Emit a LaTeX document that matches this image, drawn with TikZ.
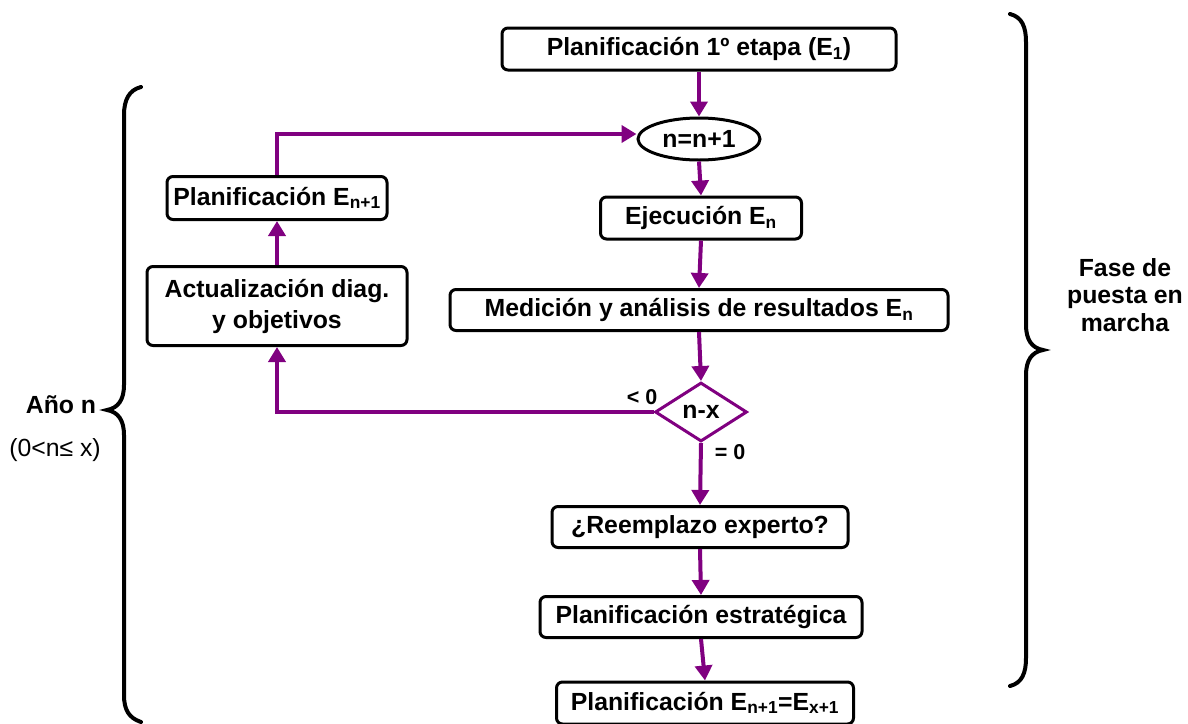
\documentclass[tikz,border=0pt]{standalone}
\usepackage{fontspec}
\setmainfont{Liberation Sans}
\usetikzlibrary{shapes.geometric,arrows.meta}
\definecolor{flowpurple}{RGB}{128,0,128}
\begin{document}
\begin{tikzpicture}[x=1pt,y=-1pt,
  box/.style={draw=black,line width=3pt,rounded corners=6pt,fill=white,inner sep=0pt,
    font=\bfseries\fontsize{24.8}{31}\selectfont,align=center},
  ellbox/.style={draw=black,line width=3pt,ellipse,inner sep=0pt,fill=white,
    font=\bfseries\fontsize{24.8}{30}\selectfont},
  diabox/.style={draw=flowpurple,line width=3pt,diamond,inner sep=0pt,fill=white,
    font=\bfseries\fontsize{24.8}{30}\selectfont},
  arr/.style={draw=flowpurple,line width=4pt,-{Triangle[width=17pt,length=15pt]}},
  lbl/.style={font=\bfseries\fontsize{21.5}{24}\selectfont,inner sep=0pt},
  side/.style={font=\bfseries\fontsize{24.8}{27.5}\selectfont,align=center,inner sep=0pt},
  brace/.style={draw=black,line width=4pt,line cap=round}]
\useasboundingbox (0,0) rectangle (1188,723);

\node[box,minimum width=394pt,minimum height=42pt] (top) at (699,49) {Planificación 1º etapa (E\textsubscript{1})};
\node[ellbox,minimum width=122pt,minimum height=42pt] (ell) at (699,139) {n=n+1};
\node[box,minimum width=201pt,minimum height=42pt] (ej) at (701,218) {Ejecución E\textsubscript{n}};
\node[box,minimum width=498pt,minimum height=41pt] (med) at (699,310) {Medición y análisis de resultados E\textsubscript{n}};
\node[diabox,minimum width=92pt,minimum height=59pt] (dia) at (701,412) {n-x};
\node[box,minimum width=296pt,minimum height=41pt] (reem) at (700,527) {¿Reemplazo experto?};
\node[box,minimum width=322pt,minimum height=41pt] (estr) at (701,617) {Planificación estratégica};
\node[box,minimum width=297pt,minimum height=42pt] (bot) at (705,703) {Planificación E\textsubscript{n+1}=E\textsubscript{x+1}};
\node[box,minimum width=220pt,minimum height=43pt] (pl) at (277,198) {Planificación E\textsubscript{n+1}};
\node[box,minimum width=260pt,minimum height=79pt] (act) at (277,306) {Actualización diag.\\y objetivos};

\draw[arr] (top.south) -- (ell.north);
\draw[arr] (ell.south) -- (ej.north);
\draw[arr] (ej.south) -- (med.north);
\draw[arr] (med.south) -- (dia.north);
\draw[arr] (dia.south) -- (reem.north);
\draw[arr] (reem.south) -- (estr.north);
\draw[arr] (estr.south) -- (bot.north);
\draw[arr] (dia.west) -| (act.south);
\draw[arr] (act.north) -- (pl.south);
\draw[arr] (pl.north) |- ([yshift=5pt]ell.west);

\node[lbl] (lt) at (642,397) {< 0};
\node[lbl] (eq) at (730,452) {= 0};

\node[side] (ano) at (61,405) {Año n};
\node[font=\fontsize{24.8}{27}\selectfont,inner sep=0pt] (rng) at (55,450) {(0<n≤ x)};
\node[side] (fase) at (1125,295) {Fase de\\puesta en\\marcha};

\draw[brace] (141,87) .. controls (129,90) and (124,100) .. (124,115) -- (124,385)
  .. controls (124,400) and (118,408) .. (107,410)
  .. controls (118,412) and (124,420) .. (124,435) -- (124,695)
  .. controls (124,710) and (129,718) .. (141,722);
\draw[brace] (1010,14) .. controls (1022,17) and (1026,27) .. (1026,42) -- (1026,325)
  .. controls (1026,340) and (1032,348) .. (1043,350)
  .. controls (1032,352) and (1026,360) .. (1026,375) -- (1026,658)
  .. controls (1026,673) and (1022,683) .. (1010,686);
\end{tikzpicture}
\end{document}
